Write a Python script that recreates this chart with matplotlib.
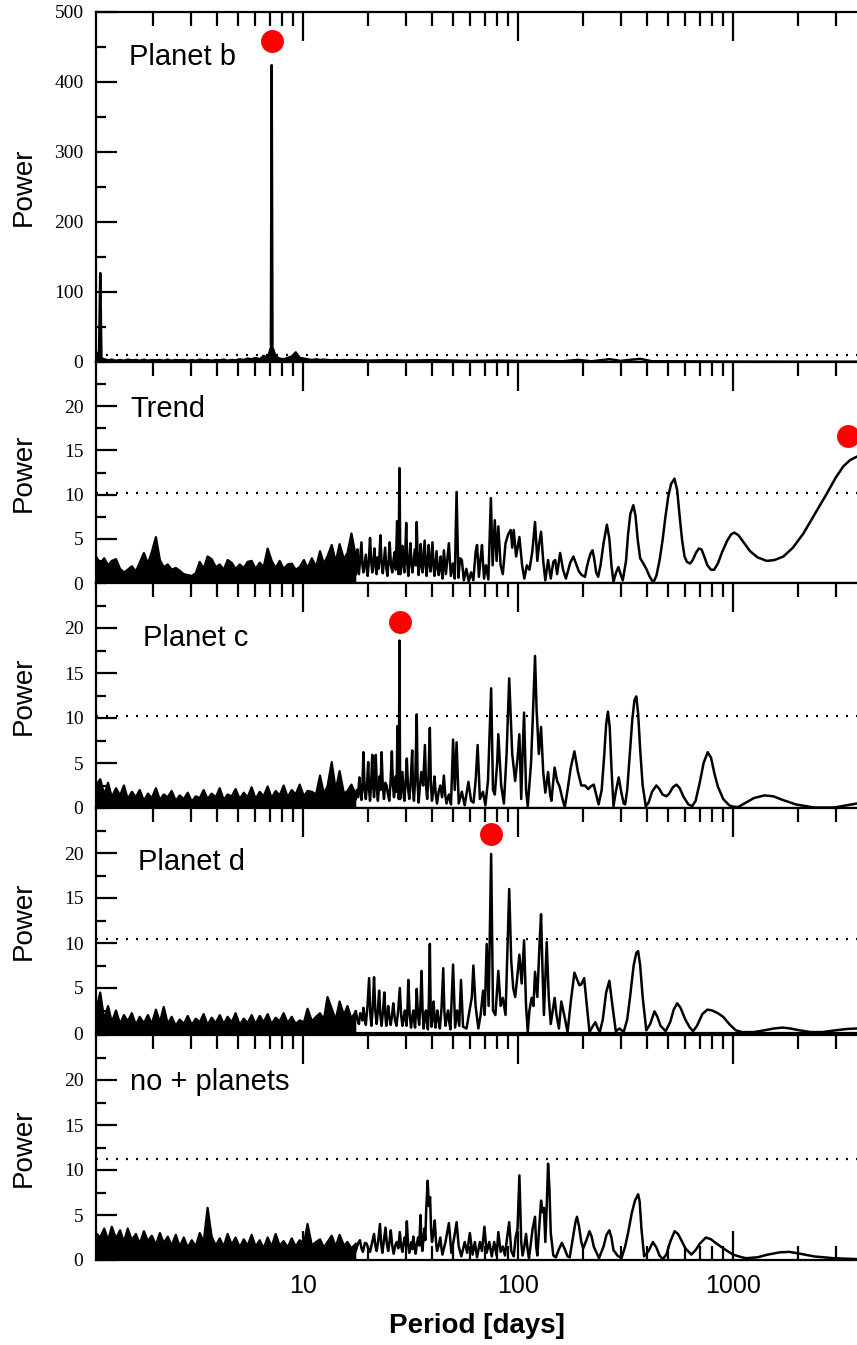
import matplotlib
matplotlib.use("Agg")
import matplotlib.pyplot as plt
from matplotlib.ticker import LogLocator, FuncFormatter, MultipleLocator, NullFormatter, FixedLocator

# ---------------- data ----------------
# period grid of the dense (unresolved) short-period part of the periodograms
NOISE_PERIOD = [
    1.09, 1.14, 1.19, 1.24, 1.29, 1.35, 1.41, 1.47, 1.53, 1.60,
    1.67, 1.74, 1.82, 1.90, 1.98, 2.07, 2.16, 2.25, 2.35, 2.45,
    2.56, 2.67, 2.79, 2.91, 3.04, 3.17, 3.31, 3.45, 3.60, 3.76,
    3.93, 4.10, 4.28, 4.46, 4.66, 4.86, 5.08, 5.30, 5.53, 5.77,
    6.02, 6.29, 6.56, 6.85, 7.15, 7.46, 7.79, 8.13, 8.49, 8.86,
    9.25, 9.65, 10.1, 10.5, 11.0, 11.5, 12.0, 12.5, 13.0, 13.6,
    14.2, 14.8, 15.5, 16.1, 16.8, 17.6]

# --- panel 1 : Planet b
noise_b = [
    15, 6, 4, 2.5, 3.5, 2, 3, 2, 3.5, 2.5,
    3, 2, 3.5, 2, 3, 2.5, 3, 2, 3.5, 2,
    3, 2.5, 3, 2, 3, 2, 3.5, 2.5, 3, 2,
    3, 2.5, 3.5, 2, 3, 2.5, 4, 3, 5, 4,
    6, 4, 9, 6, 25, 8, 5, 4, 6, 8,
    14, 6, 5, 4, 3, 4, 3, 3.5, 3, 2.5,
    3, 2.5, 3, 2.5, 3, 2.5]
spike_b_short = [(1.125, 6), (1.14, 127), (1.155, 6)]
spike_b_main = [(7.09, 25), (7.15, 424), (7.21, 25)]
curve_b = [(17.6, 2.5), (20, 2), (25, 2.5), (30, 2), (40, 2.5), (50, 2), (60, 1.5), (80, 2),
           (100, 1.5), (130, 1.5), (160, 1), (190, 3), (220, 1), (267, 4), (300, 1.5),
           (330, 3), (370, 4.5), (420, 1), (500, 1), (700, 0.8), (1000, 0.5), (2000, 0.3),
           (3773, 0.3)]

# --- panel 2 : Trend
noise_t = [
    3.0, 2.2, 2.8, 2.0, 2.5, 2.7, 1.6, 1.2, 1.5, 1.9,
    1.3, 2.3, 3.4, 2.2, 3.5, 5.2, 2.6, 1.8, 2.1, 1.5,
    1.7, 1.4, 1.0, 0.9, 0.8, 1.1, 2.4, 1.6, 3.0, 2.7,
    1.8, 2.1, 1.5, 2.6, 2.3, 1.6, 2.1, 1.7, 2.4, 2.5,
    1.6, 2.3, 1.8, 3.9, 2.5, 1.7, 2.5, 1.6, 2.1, 2.2,
    1.5, 1.8, 2.6, 1.7, 2.8, 1.8, 3.6, 2.2, 3.0, 4.3,
    2.4, 4.4, 2.7, 3.4, 5.6, 3.0]
curve_t = [
    (17.6, 1.0), (17.75, 2.4), (17.9, 3.8), (18.05, 1.6), (18.2, 1.0), (18.45, 2.8), (18.7, 4.6),
    (18.9, 2.0), (19.1, 1.2), (19.35, 2.2), (19.6, 3.2), (19.8, 1.5), (20.0, 0.8), (20.25, 2.6),
    (20.5, 5.1), (20.75, 2.5), (21.0, 1.2), (21.25, 2.4), (21.5, 3.9), (21.75, 1.8), (22.0, 1.0),
    (22.2, 2.9), (22.45, 1.6), (22.7, 3.3), (22.9, 5.4), (23.2, 2.2), (23.5, 1.1), (23.8, 2.6),
    (24.1, 4.0), (24.4, 1.7), (24.7, 0.8), (25.0, 2.5), (25.3, 4.6), (25.65, 2.0), (26.0, 1.2),
    (26.35, 2.6), (26.7, 3.5), (27.0, 1.5), (27.4, 7.0), (27.6, 2.5), (27.8, 1.0), (28.1, 13.0),
    (28.4, 1.0), (28.7, 2.8), (29.0, 4.2), (29.3, 2.0), (29.6, 1.2), (29.9, 3.5), (30.2, 6.8),
    (30.55, 2.2), (30.9, 0.8), (31.25, 2.7), (31.6, 4.5), (31.95, 2.1), (32.3, 1.2), (32.7, 2.5),
    (33.1, 3.8), (33.45, 2.0), (33.8, 6.9), (34.15, 2.5), (34.5, 0.9), (34.9, 2.9), (35.3, 4.4),
    (35.65, 1.8), (36.0, 1.2), (36.4, 3.1), (36.8, 4.8), (37.2, 2.0), (37.6, 0.8), (38.0, 2.6),
    (38.4, 4.3), (38.8, 2.1), (39.2, 1.3), (39.6, 2.9), (40.0, 4.6), (40.45, 2.0), (40.9, 0.8),
    (41.35, 2.2), (41.8, 3.6), (42.3, 1.6), (42.8, 0.9), (43.25, 2.1), (43.7, 3.0), (44.15, 1.4),
    (44.6, 0.5), (45.2, 3.7), (46.2, 1.0), (47.7, 4.5), (48.7, 0.8), (49.8, 2.2), (50.8, 0.5),
    (51.8, 10.3), (52.8, 0.6), (53.8, 2.8), (54.8, 2.6), (56.0, 0.3), (57.5, 1.6), (59.0, 0.2),
    (60.5, 1.2), (62.0, 0.3), (63.5, 3.5), (64.5, 4.3), (65.8, 0.7), (67.0, 2.8), (68.0, 4.3),
    (69.5, 0.5), (71.0, 2.0), (72.8, 0.4), (74.8, 9.6), (76.2, 2.0), (78.0, 7.1), (79.5, 2.5),
    (81.0, 6.4), (83.0, 2.0), (85.0, 1.0), (87.5, 4.5), (90.0, 5.5), (92.5, 6.0), (94.0, 4.0),
    (95.5, 6.0), (98.0, 3.0), (101.5, 5.2), (104.5, 2.0), (107, 0.5), (110, 2.0), (113, 1.5),
    (116.5, 3.5), (120, 6.9), (123, 2.5), (125.5, 4.5), (128, 5.8), (131, 2.5), (134, 0.3),
    (138, 2.6), (142, 0.5), (146, 2.4), (149, 2.6), (152, 1.0), (157, 3.4), (162, 1.5),
    (167, 0.5), (175, 2.3), (181, 3.0), (186, 2.2), (192, 1.3), (198, 0.9), (205, 0.7),
    (209, 1.8), (213, 2.6), (218, 3.4), (222, 3.7), (226, 2.8), (231, 1.2), (236, 0.7),
    (242, 2.0), (250, 4.5), (259, 6.6), (266, 5.0), (272, 2.0), (278, 0.15), (286, 1.2),
    (293, 1.8), (300, 1.0), (307, 0.3), (318, 2.5), (325, 5.5), (333, 7.8), (344, 8.8),
    (352, 7.6), (360, 5.0), (370, 2.8), (383, 2.2), (395, 1.6), (410, 0.7), (426, 0.05),
    (440, 0.8), (455, 2.5), (470, 4.8), (485, 7.5), (500, 9.8), (515, 11.2), (534, 11.8),
    (550, 10.5), (565, 7.5), (580, 4.8), (595, 3.0), (610, 2.4), (631, 2.2), (650, 2.6),
    (672, 3.4), (693, 3.9), (714, 3.8), (735, 3.0), (760, 2.0), (790, 1.5), (817, 1.5),
    (850, 2.2), (890, 3.5), (940, 4.8), (980, 5.5), (1014, 5.7), (1060, 5.4), (1120, 4.6),
    (1200, 3.6), (1300, 2.9), (1435, 2.5), (1560, 2.6), (1716, 3.0), (1900, 4.0), (2125, 5.6),
    (2400, 7.8), (2728, 10.1), (3000, 11.9), (3260, 13.2), (3500, 13.9), (3773, 14.3)]

# --- panel 3 : Planet c
noise_c = [
    2.5, 3.2, 1.5, 2.8, 1.2, 2.2, 1.4, 2.5, 1.0, 1.8,
    1.2, 2.0, 0.8, 1.6, 1.1, 2.2, 0.9, 1.5, 1.2, 1.9,
    0.8, 1.4, 1.0, 1.7, 0.7, 1.3, 1.1, 2.0, 1.0, 1.6,
    1.2, 2.2, 0.9, 1.5, 1.3, 2.1, 1.0, 1.7, 1.2, 2.3,
    1.0, 1.8, 1.3, 2.4, 1.1, 1.9, 1.4, 2.5, 1.2, 2.0,
    1.5, 2.6, 1.3, 1.9, 1.8, 1.5, 3.6, 1.6, 2.4, 5.1,
    2.0, 4.1, 1.6, 1.9, 2.6, 1.5]
curve_c = [
    (17.6, 1.0), (17.8, 2.0), (18.0, 1.2), (18.3, 3.4), (18.5, 1.6), (18.7, 0.9), (18.9, 2.5),
    (19.1, 6.2), (19.35, 2.0), (19.6, 1.0), (19.85, 2.6), (20.1, 5.1), (20.3, 2.0), (20.5, 0.8),
    (20.75, 2.9), (21.0, 5.9), (21.2, 2.4), (21.4, 1.2), (21.6, 3.0), (21.8, 5.9), (22.05, 2.2),
    (22.3, 0.8), (22.5, 2.0), (22.7, 3.5), (22.95, 2.0), (23.2, 6.2), (23.5, 2.4), (23.8, 1.0),
    (24.15, 2.8), (24.5, 2.5), (24.85, 1.5), (25.2, 0.8), (25.55, 3.0), (25.9, 6.3), (26.2, 2.5),
    (26.5, 1.2), (26.75, 2.2), (27.0, 3.5), (27.25, 1.8), (27.5, 9.1), (27.9, 1.0), (28.1, 18.6),
    (28.3, 1.0), (28.65, 2.5), (29.0, 4.0), (29.3, 1.8), (29.6, 0.8), (30.0, 2.8), (30.4, 5.5),
    (30.8, 2.2), (31.2, 1.0), (31.7, 3.0), (32.2, 6.4), (32.5, 2.0), (32.8, 0.8), (33.3, 3.5),
    (33.8, 10.4), (34.15, 2.5), (34.5, 0.6), (35.0, 2.5), (35.5, 4.0), (36.2, 2.5), (36.9, 7.0),
    (37.35, 2.5), (37.8, 1.0), (38.35, 3.5), (38.9, 8.9), (39.35, 2.5), (39.8, 0.8), (40.35, 2.0),
    (40.9, 3.5), (41.45, 1.5), (42.0, 0.5), (42.75, 1.8), (43.5, 2.5), (44.35, 1.2), (45.2, 3.6),
    (45.85, 1.5), (46.5, 0.5), (47.7, 1.5), (48.8, 0.4), (49.9, 7.6), (50.8, 2.0), (51.8, 7.3),
    (53.0, 0.5), (54.8, 1.8), (56.5, 0.3), (58.8, 2.9), (60.5, 0.8), (62.1, 0.6), (63.5, 3.0),
    (64.9, 7.0), (66.5, 1.0), (68.7, 1.8), (70.5, 0.3), (72.5, 3.0), (75.0, 13.3), (76.5, 2.0),
    (78.0, 1.5), (80.0, 5.0), (81.0, 8.2), (83.5, 2.5), (86.0, 0.5), (88.5, 6.0), (91.0, 14.4),
    (94.0, 6.0), (97.0, 3.0), (99.5, 5.5), (101.5, 8.2), (103.5, 1.0), (105.0, 6.0),
    (106.7, 10.6), (109, 2.0), (111, 0.2), (115, 5.0), (118, 12.0), (120, 16.9), (122, 11.0),
    (125, 6.0), (128, 9.0), (131, 4.0), (134, 1.7), (138, 4.0), (141, 1.5), (143, 0.8),
    (148, 4.5), (152, 3.0), (156, 2.4), (161, 1.0), (165, 0.1), (170, 2.0), (176, 4.5),
    (183, 6.3), (190, 4.0), (197, 2.5), (205, 2.5), (212, 2.1), (218, 2.4), (225, 2.6),
    (231, 1.5), (237, 0.4), (245, 2.0), (252, 6.0), (257, 9.3), (262, 10.7), (267, 9.0),
    (272, 4.5), (278, 0.2), (285, 1.8), (294, 3.4), (302, 1.8), (310, 0.5), (315, 0.4),
    (322, 2.0), (330, 5.5), (340, 9.8), (348, 12.0), (355, 12.4), (362, 10.5), (370, 6.5),
    (380, 2.5), (393, 0.2), (405, 0.6), (420, 1.8), (440, 2.5), (455, 2.1), (470, 1.5),
    (490, 1.3), (505, 1.6), (525, 2.3), (546, 2.6), (565, 2.2), (590, 1.2), (620, 0.4),
    (646, 0.2), (670, 0.8), (700, 2.8), (730, 5.0), (762, 6.2), (790, 5.6), (820, 3.8),
    (850, 2.4), (900, 1.0), (960, 0.3), (1000, 0.15), (1055, 0.1), (1130, 0.5), (1250, 1.1),
    (1400, 1.4), (1540, 1.3), (1700, 0.9), (1960, 0.4), (2380, 0.05), (2960, 0.05), (3370, 0.3),
    (3773, 0.5)]

# --- panel 4 : Planet d
noise_d = [
    2.5, 4.5, 1.5, 3.0, 1.2, 2.5, 1.0, 2.0, 1.3, 2.2,
    0.9, 1.8, 1.1, 2.0, 1.0, 2.6, 1.2, 2.9, 1.0, 1.8,
    0.8, 1.5, 1.0, 1.9, 0.9, 1.6, 1.2, 2.1, 0.9, 1.7,
    1.1, 2.0, 1.0, 1.8, 1.2, 2.2, 0.9, 1.6, 1.1, 2.0,
    1.0, 1.9, 1.2, 2.1, 1.0, 1.7, 1.3, 2.2, 1.1, 1.8,
    1.0, 1.4, 1.2, 2.7, 1.3, 1.8, 2.2, 1.5, 4.0, 2.7,
    1.5, 3.5, 2.0, 3.0, 1.6, 2.4]
curve_d = [
    (17.6, 2.4), (17.9, 1.5), (18.2, 1.0), (18.45, 2.2), (18.7, 2.0), (18.9, 1.4), (19.1, 2.8),
    (19.35, 1.6), (19.6, 0.9), (19.95, 3.0), (20.3, 6.1), (20.55, 2.2), (20.8, 0.8), (21.1, 2.8),
    (21.4, 6.2), (21.7, 2.4), (22.0, 1.0), (22.3, 2.5), (22.6, 4.7), (22.9, 2.0), (23.2, 0.8),
    (23.55, 2.4), (23.9, 4.5), (24.15, 2.0), (24.4, 0.8), (24.65, 1.8), (24.9, 3.0), (25.25, 1.6),
    (25.6, 0.9), (25.95, 2.0), (26.3, 3.3), (26.75, 1.5), (27.2, 0.8), (27.7, 2.4), (28.2, 5.0),
    (28.6, 2.0), (29.0, 0.8), (29.4, 1.8), (29.8, 2.5), (30.05, 1.4), (30.3, 0.8), (30.6, 2.6),
    (30.9, 5.9), (31.35, 2.0), (31.8, 0.6), (32.2, 1.8), (32.6, 2.5), (32.9, 1.3), (33.2, 0.6),
    (33.5, 2.2), (33.8, 4.9), (34.25, 2.0), (34.7, 0.9), (35.15, 3.0), (35.6, 6.9), (36.0, 2.4),
    (36.4, 0.5), (36.85, 1.8), (37.3, 2.5), (37.7, 1.2), (38.1, 0.4), (38.5, 3.5), (38.9, 9.9),
    (39.25, 2.5), (39.6, 0.7), (40.05, 2.0), (40.5, 3.5), (40.9, 1.5), (41.3, 0.6), (41.7, 1.6),
    (42.1, 2.5), (42.7, 1.4), (43.3, 0.5), (44.1, 2.8), (44.9, 7.2), (45.45, 2.4), (46.0, 0.8),
    (46.65, 1.8), (47.3, 2.5), (47.9, 1.2), (48.5, 0.4), (49.9, 7.6), (51.0, 0.6), (52.1, 2.5),
    (53.3, 0.8), (54.3, 5.9), (55.5, 0.7), (57.6, 0.5), (59.5, 2.5), (61.0, 4.0), (62.0, 7.5),
    (63.5, 3.0), (65.4, 0.5), (67.0, 2.0), (68.8, 4.7), (70.0, 2.0), (71.5, 9.9), (73.0, 3.0),
    (75.0, 19.9), (76.5, 2.5), (78.5, 2.0), (81.0, 6.9), (83.0, 3.0), (85.0, 3.9), (87.5, 2.0),
    (89.5, 10.0), (91.0, 16.0), (93.0, 8.0), (95.0, 5.0), (97.0, 4.0), (99.0, 6.0), (101.5, 8.7),
    (104.0, 5.5), (106.7, 10.3), (109, 3.0), (111, 0.1), (113, 2.5), (115.7, 3.9), (118, 3.0),
    (120, 6.8), (123, 4.0), (126, 10.0), (128, 13.2), (130, 7.0), (132, 2.0), (134, 6.0),
    (136, 10.1), (139, 4.0), (142, 1.0), (145, 2.5), (148, 3.9), (151, 2.0), (155, 0.5),
    (159, 3.5), (164, 2.0), (170, 0.1), (176, 3.5), (183, 6.7), (188, 6.0), (193, 5.3),
    (197, 5.4), (203, 6.1), (209, 3.0), (215, 0.1), (222, 0.7), (229, 1.2), (235, 0.5),
    (240, 0.1), (248, 1.5), (257, 4.5), (266, 5.8), (275, 3.0), (285, 0.2), (297, 0.5),
    (310, 0.1), (322, 1.5), (332, 4.0), (345, 7.5), (355, 8.9), (362, 9.1), (370, 7.5),
    (380, 4.0), (395, 0.3), (412, 1.0), (431, 2.4), (445, 1.8), (460, 0.8), (486, 0.2),
    (510, 1.2), (530, 2.6), (550, 3.3), (570, 2.8), (600, 1.5), (630, 0.6), (652, 0.2),
    (680, 0.8), (720, 2.1), (760, 2.6), (800, 2.5), (850, 2.2), (900, 1.8), (960, 1.0),
    (1030, 0.3), (1100, 0.1), (1250, 0.1), (1400, 0.3), (1550, 0.5), (1700, 0.6), (1850, 0.5),
    (2036, 0.3), (2300, 0.1), (2600, 0.1), (3000, 0.3), (3400, 0.45), (3773, 0.5)]

# --- panel 5 : no + planets
noise_n = [
    3.0, 2.5, 3.5, 2.2, 3.7, 2.4, 3.3, 2.0, 3.5, 2.2,
    2.9, 1.8, 3.2, 2.1, 2.7, 1.7, 3.0, 1.9, 2.6, 1.6,
    2.8, 1.5, 2.5, 1.4, 2.2, 1.5, 3.0, 2.0, 5.8, 2.6,
    1.6, 2.4, 1.5, 2.9, 1.7, 2.5, 1.4, 2.3, 1.6, 2.8,
    1.5, 2.2, 1.3, 2.5, 1.5, 2.9, 1.6, 2.1, 1.4, 2.4,
    1.5, 2.2, 1.8, 4.0, 1.6, 2.0, 2.3, 1.4, 2.0, 2.7,
    1.5, 2.8, 1.6, 2.0, 1.3, 1.8]
curve_n = [
    (17.6, 1.0), (18.0, 1.8), (18.4, 2.2), (18.7, 1.3), (19.0, 0.9), (19.4, 1.9), (19.8, 1.8),
    (20.15, 1.2), (20.5, 0.9), (20.95, 1.9), (21.4, 2.9), (21.7, 1.6), (22.0, 1.0), (22.4, 2.2),
    (22.8, 4.0), (23.1, 1.8), (23.4, 0.8), (23.8, 2.2), (24.2, 3.6), (24.55, 1.8), (24.9, 1.0),
    (25.25, 2.0), (25.6, 3.3), (26.0, 1.6), (26.4, 0.7), (26.85, 1.6), (27.3, 2.0), (27.75, 1.3),
    (28.2, 3.1), (28.6, 1.6), (29.0, 0.9), (29.35, 1.8), (29.7, 2.5), (30.05, 1.6), (30.4, 4.3),
    (30.8, 1.8), (31.2, 0.8), (31.55, 1.6), (31.9, 2.0), (32.25, 1.2), (32.6, 2.6), (33.0, 1.5),
    (33.4, 0.7), (33.85, 1.8), (34.3, 2.5), (34.75, 1.6), (35.2, 5.0), (35.55, 2.2), (35.9, 1.0),
    (36.3, 2.2), (36.7, 3.5), (37.05, 2.2), (37.4, 5.5), (38.0, 8.8), (38.5, 6.0), (39.0, 7.0),
    (39.4, 3.5), (39.8, 2.0), (40.4, 3.0), (41.0, 4.4), (41.5, 2.2), (42.0, 1.0), (42.75, 1.6),
    (43.5, 2.5), (44.0, 1.4), (44.5, 0.6), (46.0, 2.0), (47.7, 4.1), (49.0, 0.8), (50.5, 2.5),
    (51.8, 4.2), (53.0, 1.5), (54.5, 0.4), (56.5, 2.0), (58.0, 0.8), (59.7, 3.0), (61.5, 0.6),
    (63.0, 2.0), (64.5, 0.3), (66.5, 2.0), (68.0, 1.0), (69.8, 3.7), (71.5, 0.8), (73.5, 2.0),
    (75.5, 0.4), (77.5, 2.0), (79.5, 0.5), (81.0, 3.1), (83.0, 0.9), (85.0, 1.5), (87.0, 0.5),
    (89.0, 2.5), (91.0, 4.2), (93.0, 1.0), (95.5, 0.4), (97.5, 2.5), (99.5, 3.5), (101.5, 9.4),
    (103.5, 2.0), (105.0, 0.5), (107, 1.5), (109, 2.9), (111, 1.0), (112.5, 0.2), (115, 2.0),
    (117, 3.5), (120, 4.8), (121.5, 1.5), (123, 0.5), (125.5, 3.5), (128, 6.6), (130, 5.3),
    (132, 5.8), (134, 2.0), (136, 6.0), (138, 10.7), (140, 8.0), (142, 3.0), (146, 0.5),
    (150, 0.3), (155, 1.2), (160, 1.9), (165, 1.2), (170, 0.4), (174, 0.3), (180, 2.5),
    (185, 4.2), (188, 4.8), (192, 3.8), (197, 2.0), (201, 1.3), (208, 2.2), (215, 3.2),
    (220, 2.6), (225, 1.5), (238, 0.2), (250, 1.5), (258, 2.8), (266, 3.3), (272, 2.5),
    (278, 1.1), (290, 0.5), (303, 0.2), (315, 1.5), (325, 3.0), (338, 5.2), (350, 6.6),
    (362, 7.3), (368, 6.5), (375, 3.5), (386, 0.4), (405, 1.0), (424, 2.0), (440, 1.4),
    (455, 0.5), (471, 0.1), (490, 0.6), (510, 2.0), (535, 3.2), (555, 2.9), (575, 2.2),
    (600, 1.3), (640, 0.6), (670, 1.1), (700, 1.8), (748, 2.5), (790, 2.3), (830, 1.9),
    (900, 1.3), (1000, 0.6), (1100, 0.3), (1150, 0.2), (1300, 0.3), (1450, 0.6), (1650, 0.85),
    (1830, 0.9), (2050, 0.7), (2380, 0.4), (2930, 0.2), (3773, 0.1)]

panel_labels = ["Planet b", "Trend", "Planet c", "Planet d", "no + planets"]
thresholds = [10.0, 10.2, 10.25, 10.5, 11.2]
dot_period = [7.15, 3414, 28.2, 74.8, None]
dot_power = [459, 16.6, 20.7, 22.1, None]
xlabel = "Period [days]"
ylabel = "Power"

noise_list = [noise_b, noise_t, noise_c, noise_d, noise_n]
curve_list = [curve_b, curve_t, curve_c, curve_d, curve_n]

# ---------------- layout ----------------
W, H = 857, 1345
fig = plt.figure(figsize=(W / 100, H / 100), dpi=100)
left_px, right_px = 96, 857
panel_px = [(12, 362), (362, 583), (583, 808), (808, 1033), (1035, 1260)]
label_pos = [(129, 65), (130, 417), (143, 646), (138, 870), (130, 1090)]
XMIN, XMAX = 1.0895, 3773
AXW = right_px - left_px

SANS = ["Liberation Sans", "DejaVu Sans"]
SERIF = ["Liberation Serif", "DejaVu Serif"]

for k in range(5):
    top, bot = panel_px[k]
    ax = fig.add_axes([left_px / W, 1 - bot / H, AXW / W, (bot - top) / H])
    ax.set_xscale("log")
    ax.set_xlim(XMIN, XMAX)
    if k == 0:
        ax.set_ylim(0, 500)
        ax.yaxis.set_major_locator(MultipleLocator(100))
        ax.yaxis.set_minor_locator(MultipleLocator(50))
    else:
        ax.set_ylim(0, 25)
        ax.yaxis.set_major_locator(FixedLocator([0, 5, 10, 15, 20]))
        ax.yaxis.set_minor_locator(MultipleLocator(2.5))

    # data
    ax.fill_between(NOISE_PERIOD, 0, noise_list[k], color="black", lw=0)
    ax.plot(NOISE_PERIOD, noise_list[k], color="black", lw=1.6)
    cp, cv = zip(*curve_list[k])
    ax.plot(cp, cv, color="black", lw=1.8, solid_joinstyle="round")
    if k == 0:
        for spike in (spike_b_short, spike_b_main):
            sp, sv = zip(*spike)
            ax.plot(sp, sv, color="black", lw=1.8)
    ax.axhline(thresholds[k], color="black", lw=1.6, linestyle=(0, (0.9, 3.6)))
    if dot_period[k] is not None:
        ax.plot([dot_period[k]], [dot_power[k]], "o", color="#ff0000", ms=16.5,
                mec="none", clip_on=False, zorder=5)

    lx, ly = label_pos[k]
    ax.text((lx - left_px) / AXW, (bot - ly) / (bot - top), panel_labels[k],
            transform=ax.transAxes, fontsize=21, family=SANS, va="baseline", ha="left")

    # spines
    for s in ["top", "bottom", "left"]:
        ax.spines[s].set_linewidth(1.6)
    ax.spines["right"].set_visible(False)

    # ticks
    ax.xaxis.set_major_locator(LogLocator(base=10))
    ax.xaxis.set_minor_locator(LogLocator(base=10, subs=[2, 3, 4, 5, 6, 7, 8, 9]))
    ax.xaxis.set_minor_formatter(NullFormatter())
    ax.tick_params(axis="x", which="both", top=True, bottom=(k == 4), direction="in",
                   labeltop=False, labelbottom=(k == 4), width=1.6)
    ax.tick_params(axis="x", which="major", length=21)
    ax.tick_params(axis="x", which="minor", length=10)
    ax.tick_params(axis="y", which="both", left=True, right=False, direction="in", width=1.6,
                   pad=9)
    ax.tick_params(axis="y", which="major", length=15, labelsize=14)
    ax.tick_params(axis="y", which="minor", length=7)
    for t in ax.get_yticklabels():
        t.set_family(SERIF)
    ax.set_ylabel(ylabel, fontsize=20, family=SANS)
    ax.yaxis.set_label_coords(-(left_px - 37) / AXW, 0.5)

    if k == 4:
        ax.xaxis.set_major_formatter(FuncFormatter(lambda v, p: f"{v:g}"))
        ax.tick_params(axis="x", which="major", labelsize=18, pad=10)
        for t in ax.get_xticklabels():
            t.set_family(SANS)
        ax.set_xlabel(xlabel, fontsize=20, family=SANS, fontweight="bold", labelpad=11)

fig.savefig("out.png", dpi=100)
